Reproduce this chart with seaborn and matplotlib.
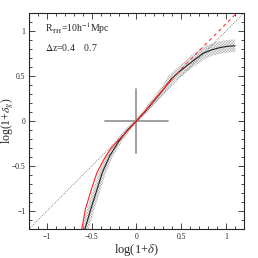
import numpy as np
import pandas as pd
import matplotlib
matplotlib.use("Agg")
import matplotlib.pyplot as plt
from matplotlib.ticker import MultipleLocator
import seaborn as sns

# --- data ---
# measured relation (black) with its scatter band
meas_x = [-0.575, -0.51, -0.44, -0.38, -0.30, -0.20, -0.10, 0.0, 0.10, 0.20, 0.30, 0.39, 0.48, 0.57, 0.66, 0.74, 0.84, 0.93, 1.02, 1.10]
meas_y = [-1.20, -0.98, -0.76, -0.57, -0.39, -0.23, -0.10, 0.0, 0.11, 0.23, 0.35, 0.47, 0.55, 0.62, 0.69, 0.75, 0.79, 0.815, 0.83, 0.835]
band_hw = [0.04, 0.04, 0.04, 0.038, 0.035, 0.03, 0.025, 0.02, 0.025, 0.03, 0.035, 0.045, 0.05, 0.055, 0.06, 0.065, 0.065, 0.07, 0.07, 0.07]
# model curve (red): solid for delta<0.35, dashed beyond
model_x = [-0.61, -0.57, -0.50, -0.44, -0.36, -0.29, -0.19, -0.09, 0.0, 0.10, 0.20, 0.30, 0.40, 0.55, 0.70, 0.90, 1.10]
model_y = [-1.20, -0.98, -0.75, -0.57, -0.42, -0.31, -0.20, -0.10, 0.0, 0.115, 0.235, 0.355, 0.47, 0.63, 0.78, 0.98, 1.18]
# cross marking the origin
cross_half = 0.35

sns.set_style("ticks")
plt.rcParams['font.family'] = ['Liberation Serif', 'DejaVu Serif']
plt.rcParams['mathtext.fontset'] = 'stix'
plt.rcParams['hatch.linewidth'] = 0.3

fig = plt.figure(figsize=(2.58, 2.58), dpi=100)
ax = fig.add_axes([0.112, 0.112, 0.834, 0.838])

# band: offset perpendicular to the measured curve
mx = np.array(meas_x)
my = np.array(meas_y)
hw = np.array(band_hw)
dx = np.gradient(mx)
dy = np.gradient(my)
nrm = np.hypot(dx, dy)
nx, ny = -dy / nrm, dx / nrm
poly_x = np.concatenate([mx + hw * nx, (mx - hw * nx)[::-1]])
poly_y = np.concatenate([my + hw * ny, (my - hw * ny)[::-1]])
ax.fill(poly_x, poly_y, facecolor='none', edgecolor='#a0a0a0', hatch='x' * 12, linewidth=0)

# y = x reference
ax.plot([-1.2, 1.2], [-1.2, 1.2], color='#666666', lw=0.6, ls=(0, (1, 1.5)))

# cross
ax.plot([-cross_half, cross_half], [0, 0], color='#999999', lw=1.3)
ax.plot([0, 0], [-cross_half, cross_half], color='#999999', lw=1.3)

meas = pd.DataFrame({'x': meas_x, 'y': meas_y})
sns.lineplot(data=meas, x='x', y='y', sort=False, color='#222222', lw=0.8, ax=ax)

model = pd.DataFrame({'x': model_x, 'y': model_y})
lo = model[model.x <= 0.40]
hi = model[model.x >= 0.30]
sns.lineplot(data=lo, x='x', y='y', sort=False, color='#ff2020', lw=0.8, ax=ax)
sns.lineplot(data=hi, x='x', y='y', sort=False, color='#ff3030', lw=0.8, ls=(0, (3, 3)), ax=ax)

ax.set_xlim(-1.2, 1.2)
ax.set_ylim(-1.2, 1.2)
for axis in (ax.xaxis, ax.yaxis):
    axis.set_major_locator(MultipleLocator(0.5))
    axis.set_minor_locator(MultipleLocator(0.1))
ax.set_xticks([-1, -0.5, 0, 0.5, 1])
ax.set_xticklabels(['\u22121', '\u22120.5', '0', '0.5', '1'])
ax.set_yticks([-1, -0.5, 0, 0.5, 1])
ax.set_yticklabels(['\u22121', '\u22120.5', '0', '0.5', '1'])
ax.tick_params(which='both', direction='in', top=True, right=True, labelsize=5.5, width=0.6, pad=2.5)
ax.tick_params(which='major', length=4)
ax.tick_params(which='minor', length=2)
for s in ax.spines.values():
    s.set_linewidth(0.8)

ax.set_xlabel(r'log(1+$\delta$)', fontsize=9, labelpad=1)
ax.set_ylabel(r'log(1+$\delta_g$)', fontsize=8.5)
ax.yaxis.set_label_coords(-0.06, 0.5)

ax.text(-1.02, 1.03, r'R$_{\rm TH}$=10h$^{-1}$Mpc', fontsize=7, va='center')
ax.text(-1.02, 0.82, r'$\Delta$z=0.4    0.7', fontsize=7, va='center')

fig.savefig('out.png', dpi=100)
